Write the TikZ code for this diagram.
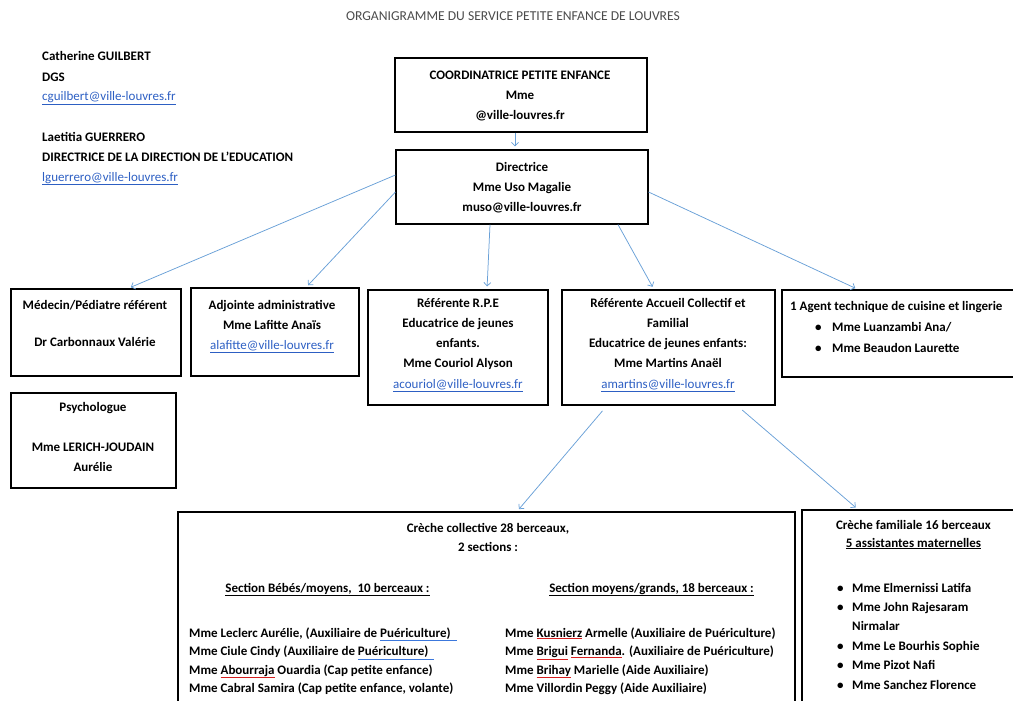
\documentclass[tikz,border=0pt]{standalone}
\usepackage{fontspec}
\setmainfont{Carlito}
\usetikzlibrary{arrows.meta}
\definecolor{arrowblue}{RGB}{105,160,215}
\definecolor{linkblue}{RGB}{45,95,195}
\definecolor{titlegray}{RGB}{75,75,75}
\definecolor{spellred}{RGB}{215,30,30}
\definecolor{gramblue}{RGB}{60,120,220}
\newcommand\mail[1]{{\mdseries\color{linkblue}\underline{#1}}}
\newcommand\redmark[1]{{\color{spellred}\underline{\color{black}#1}}}
\newcommand\bluemark[1]{{\color{gramblue}\underline{\color{black}#1}}}
\begin{document}
\begin{tikzpicture}[x=1pt,y=-1pt,
  box/.style={draw=black,line width=1.1pt,inner sep=0pt},
  txt/.style={inner sep=0pt,align=center,anchor=base,font=\fontsize{13}{20.3}\selectfont\bfseries},
  lft/.style={inner sep=0pt,align=left,anchor=base west,font=\fontsize{13}{20}\selectfont\bfseries},
  lst/.style={inner sep=0pt,align=left,anchor=base west,font=\fontsize{13}{18.5}\selectfont\bfseries},
  con/.style={draw=arrowblue,line width=0.75pt,-{Straight Barb[length=3.5pt,width=7pt]},shorten >=3pt}]
\useasboundingbox (0,0) rectangle (1013,701);
\clip (0,0) rectangle (1013,701);
% title
\node[inner sep=0pt,anchor=base,font=\fontsize{13.6}{16}\selectfont,text=titlegray] (title) at (513,21) {ORGANIGRAMME DU SERVICE PETITE ENFANCE DE LOUVRES};
% left block (anchors = baseline of last line)
\node[lft] (dgs) at (42,101) {Catherine GUILBERT\\DGS\\\mail{cguilbert@ville-louvres.fr}};
\node[lft] (dde) at (42,181) {Laetitia GUERRERO\\DIRECTRICE DE LA DIRECTION DE L’EDUCATION\\\mail{lguerrero@ville-louvres.fr}};
% boxes
\node[box,minimum width=252pt,minimum height=74pt] (coord) at (521,95) {};
\node[box,minimum width=252pt,minimum height=74pt] (dir) at (522,187) {};
\node[box,minimum width=170pt,minimum height=87pt] (med) at (96,332.5) {};
\node[box,minimum width=168pt,minimum height=88pt] (adj) at (275,332) {};
\node[box,minimum width=165pt,minimum height=95pt] (psy) at (93.5,440.5) {};
\node[box,minimum width=180pt,minimum height=115pt] (rpe) at (458,347.5) {};
\node[box,minimum width=213pt,minimum height=115pt] (acc) at (668.5,347.5) {};
\node[box,minimum width=243pt,minimum height=87pt] (agent) at (903.5,333.5) {};
\node[box,minimum width=617pt,minimum height=208pt] (coll) at (486.5,616) {};
\node[box,minimum width=223pt,minimum height=210pt] (fam) at (913.5,615) {};
% box texts (anchors = baseline of last line)
\node[txt] (coordt) at (520,119.6) {COORDINATRICE PETITE ENFANCE\\Mme\\@ville-louvres.fr};
\node[txt] (dirt) at (522,211.6) {Directrice\\Mme Uso Magalie\\muso@ville-louvres.fr};
\node[txt] (medt) at (95,346.3) {Médecin/Pédiatre référent\\[17pt]Dr Carbonnaux Valérie};
\node[txt] (adjt) at (272,349.6) {Adjointe administrative\\Mme Lafitte Anaïs\\\mail{alafitte@ville-louvres.fr}};
\node[txt] (psyt) at (93,471.6) {Psychologue\\[20pt]Mme LERICH-JOUDAIN\\Aurélie};
\node[txt] (rpet) at (458,388.2) {Référente R.P.E\\Educatrice de jeunes\\enfants.\\Mme Couriol Alyson\\\mail{acouriol@ville-louvres.fr}};
\node[txt] (acct) at (668,388.2) {Référente Accueil Collectif et\\Familial\\Educatrice de jeunes enfants:\\Mme Martins Anaël\\\mail{amartins@ville-louvres.fr}};
\node[lft] (agentt) at (790,310) {1 Agent technique de cuisine et lingerie};
\node[lft,font=\fontsize{13}{21}\selectfont\bfseries] (agentb) at (815,352) {\textbullet\\\textbullet};
\node[lft,font=\fontsize{13}{21}\selectfont\bfseries] (agentn) at (832,352) {Mme Luanzambi Ana/\\Mme Beaudon Laurette};
\node[txt,font=\fontsize{13}{19.5}\selectfont\bfseries] (collt) at (488,551.5) {Crèche collective 28 berceaux,\\2 sections :};
\node[txt] (secl) at (327.5,592) {\underline{Section Bébés/moyens,\ \ 10 berceaux :}};
\node[txt] (secr) at (651.5,592) {\underline{Section moyens/grands, 18 berceaux :}};
\node[lst] (listl) at (189,692.5) {Mme Leclerc Aurélie, (Auxiliaire de \bluemark{Puériculture)\ \ }\\Mme Ciule Cindy (Auxiliaire de \bluemark{Puériculture)\ \ }\\Mme \redmark{Abourraja} Ouardia (Cap petite enfance)\\Mme Cabral Samira (Cap petite enfance, volante)};
\node[lst] (listr) at (505,692.5) {Mme \redmark{Kusnierz} Armelle (Auxiliaire de Puériculture)\\Mme \redmark{Brigui} \redmark{Fernanda}. (Auxiliaire de Puériculture)\\Mme \redmark{Brihay} Marielle (Aide Auxiliaire)\\Mme Villordin Peggy (Aide Auxiliaire)};
\node[txt,font=\fontsize{13}{18}\selectfont\bfseries] (famt) at (913.5,547) {Crèche familiale 16 berceaux\\\underline{5 assistantes maternelles}};
\node[lft,font=\fontsize{13}{19.4}\selectfont\bfseries] (famb) at (837,689) {\textbullet\\\textbullet\\\mbox{}\\\textbullet\\\textbullet\\\textbullet};
\node[lft,font=\fontsize{13}{19.4}\selectfont\bfseries] (famn) at (852,689) {Mme Elmernissi Latifa\\Mme John Rajesaram\\Nirmalar\\Mme Le Bourhis Sophie\\Mme Pizot Nafi\\Mme Sanchez Florence};
% connectors
\draw[con] ([xshift=-6pt]coord.south) -- ([xshift=-7pt]dir.north);
\draw[con] ([yshift=12pt]dir.west) -- ([xshift=32pt]med.north);
\draw[con] ([yshift=-5pt]dir.west) -- ([xshift=31pt]adj.north);
\draw[con] ([xshift=-32pt]dir.south) -- ([xshift=29pt]rpe.north);
\draw[con] ([xshift=96pt]dir.south) -- ([xshift=-14.5pt]acc.north);
\draw[con] ([yshift=-5pt]dir.east) -- ([xshift=-45.5pt]agent.north);
\draw[con,shorten <=7pt] ([xshift=-61.5pt]acc.south) -- ([xshift=30.5pt]coll.north);
\draw[con,shorten <=7pt] ([xshift=68.5pt]acc.south) -- ([xshift=-55.5pt]fam.north);
\end{tikzpicture}
\end{document}
